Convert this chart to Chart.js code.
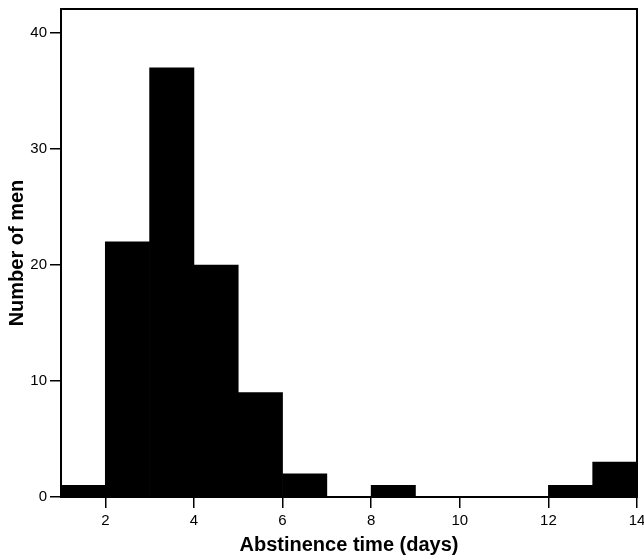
<!DOCTYPE html>
<html>
<head>
<meta charset="utf-8">
<script src="https://cdn.jsdelivr.net/npm/chart.js@4/dist/chart.umd.min.js"></script>
<style>
    html, body { margin: 0; padding: 0; background: #fff; }
    #wrap { width: 644px; height: 557px; }
</style>
</head>
<body>
<div id="wrap"><canvas id="histChart" width="644" height="557"></canvas></div>
<script>
// histogram bins (days), one unit wide
const binStarts = [1, 2, 3, 4, 5, 6, 7, 8, 9, 10, 11, 12, 13];
const menCounts = [1, 22, 37, 20, 9, 2, 0, 1, 0, 0, 0, 1, 3];
const xTicks = [2, 4, 6, 8, 10, 12, 14];
const yTicks = [0, 10, 20, 30, 40];

const points = binStarts.map((start, i) => ({ x: start + 0.5, y: menCounts[i] }));

// box around the plot area
const frame = {
    id: 'frame',
    afterDraw(chart) {
        const { ctx, chartArea } = chart;
        ctx.save();
        ctx.strokeStyle = '#000';
        ctx.lineWidth = 2;
        ctx.strokeRect(chartArea.left, chartArea.top, chartArea.right - chartArea.left, chartArea.bottom - chartArea.top);
        ctx.restore();
    }
};

const ctx = document.getElementById('histChart').getContext('2d');
new Chart(ctx, {
    type: 'bar',
    data: {
        datasets: [{
            data: points,
            backgroundColor: '#000',
            borderWidth: 0,
            barPercentage: 1,
            categoryPercentage: 1
        }]
    },
    options: {
        responsive: false,
        animation: false,
        layout: { padding: { top: 9, right: 7, left: 0, bottom: 0 }, autoPadding: false },
        plugins: { legend: { display: false }, tooltip: { enabled: false } },
        scales: {
            x: {
                type: 'linear',
                min: 1,
                max: 14,
                offset: false,
                afterBuildTicks: scale => { scale.ticks = xTicks.map(v => ({ value: v })); },
                afterFit: scale => {
                    scale.height = 60;
                    scale.paddingLeft = 0;
                    scale.paddingRight = 0;
                },
                grid: { offset: false, drawOnChartArea: false, drawTicks: true, tickLength: 11, color: '#000', lineWidth: 1.5 },
                border: { display: true, color: '#000', width: 2 },
                ticks: { color: '#000', padding: 4, font: { family: 'Liberation Sans', size: 15 }, maxRotation: 0 },
                title: {
                    display: true,
                    text: 'Abstinence time (days)',
                    color: '#000',
                    font: { family: 'Liberation Sans', size: 20, weight: 'bold' },
                    padding: { top: 0, bottom: 0 }
                }
            },
            y: {
                min: 0,
                max: 42.07,
                afterBuildTicks: scale => { scale.ticks = yTicks.map(v => ({ value: v })); },
                afterFit: scale => {
                    scale.width = 61;
                    scale.paddingTop = 0;
                    scale.paddingBottom = 0;
                },
                grid: { drawOnChartArea: false, drawTicks: true, tickLength: 11, color: '#000', lineWidth: 1.5 },
                border: { display: true, color: '#000', width: 2 },
                ticks: { color: '#000', padding: 3, font: { family: 'Liberation Sans', size: 15 } },
                title: {
                    display: true,
                    text: 'Number of men',
                    color: '#000',
                    font: { family: 'Liberation Sans', size: 20, weight: 'bold' },
                    padding: { top: 5, bottom: 0 }
                }
            }
        }
    },
    plugins: [frame]
});
</script>
</body>
</html>
